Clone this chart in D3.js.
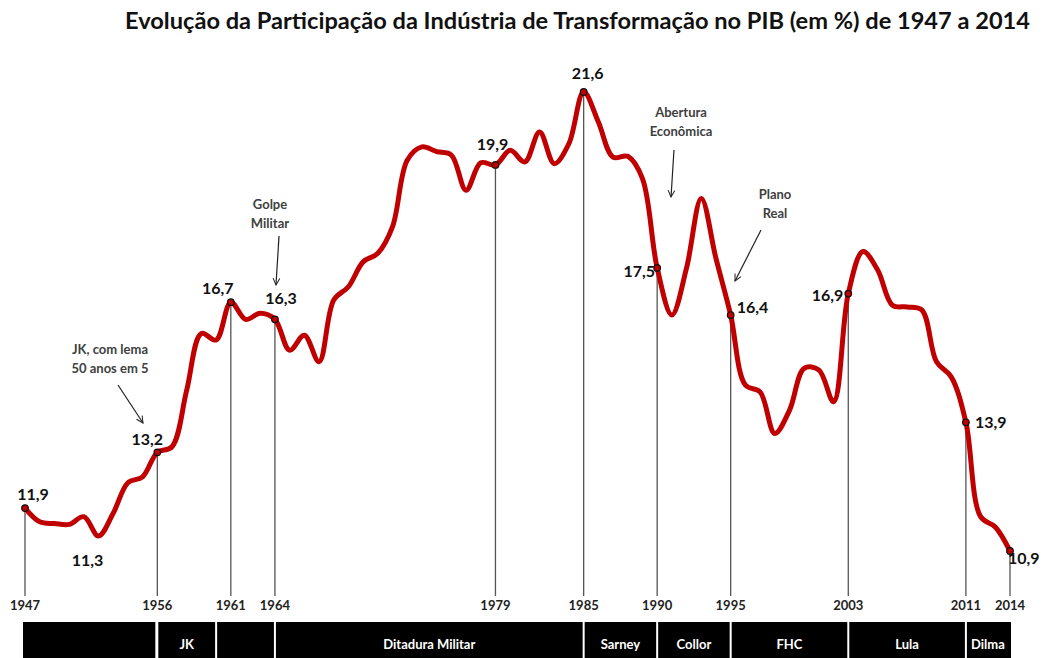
<!DOCTYPE html>
<html>
<head>
<meta charset="utf-8">
<script src="https://cdn.jsdelivr.net/npm/d3@7"></script>
<style>
  body { margin: 0; background: #fff; }
  svg { display: block; font-family: Lato, "Open Sans", sans-serif; }
</style>
</head>
<body>
<div id="chart"></div>
<script>
// anos e participação (%) da indústria de transformação no PIB
var years = d3.range(1947, 2015);
var values = [
  11.9, 11.58, 11.54, 11.52, 11.7, 11.25, 11.78, 12.49, 12.63, 13.2,
  13.33, 14.65, 15.97, 15.82, 16.7, 16.3, 16.44, 16.3, 15.58, 15.93,
  15.31, 16.75, 17.06, 17.64, 17.84, 18.46, 20.01, 20.32, 20.21, 20.13,
  19.31, 19.95, 19.9, 20.24, 19.97, 20.67, 19.93, 20.4, 21.6, 20.9,
  20.08, 20.1, 19.58, 17.5, 16.4, 17.5, 19.12, 17.72, 16.4, 14.77,
  14.61, 13.64, 14.18, 15.16, 15.12, 14.38, 16.9, 17.88, 17.45, 16.63,
  16.59, 16.52, 15.31, 14.96, 13.9, 11.7, 11.46, 10.9
];
// anos destacados com linha vertical
var markedYears = [1947, 1956, 1961, 1964, 1979, 1985, 1990, 1995, 2003, 2011, 2014];
var labelYears = [1947, 1952, 1956, 1961, 1964, 1979, 1985, 1990, 1995, 2003, 2011, 2014];
var labelTexts = ["11,9", "11,3", "13,2", "16,7", "16,3", "19,9", "21,6", "17,5", "16,4", "16,9", "13,9", "10,9"];
// governos
var eraNames = ["", "JK", "", "Ditadura Militar", "Sarney", "Collor", "FHC", "Lula", "Dilma"];
var eraStarts = [1947, 1956, 1960, 1964, 1985, 1990, 1995, 2003, 2011];
var eraEnds = [1956, 1960, 1964, 1985, 1990, 1995, 2003, 2011, 2014];
// anotações
var noteTexts = [["JK, com lema", "50 anos em 5"], ["Golpe", "Militar"], ["Abertura", "Econômica"], ["Plano", "Real"]];

var width = 1044, height = 658;
var svg = d3.select("#chart").append("svg").attr("width", width).attr("height", height);

var x = d3.scaleLinear().domain([1947, 2014]).range([25, 1010]);
var y = d3.scaleLinear().domain([10.9, 21.6]).range([551, 92]);
var valueOf = function(yr){ return values[years.indexOf(yr)]; };

// título
svg.append("text")
  .attr("x", 125).attr("y", 29)
  .attr("textLength", 905).attr("lengthAdjust", "spacingAndGlyphs")
  .style("font-size", "22px").style("font-weight", "bold").attr("fill", "#111")
  .text("Evolução da Participação da Indústria de Transformação no PIB (em %) de 1947 a 2014");

// linhas verticais
svg.selectAll(".vline")
  .data(markedYears)
  .enter().append("line")
  .attr("class", "vline")
  .attr("x1", function(d){ return x(d); }).attr("x2", function(d){ return x(d); })
  .attr("y1", function(d){ return y(valueOf(d)); })
  .attr("y2", 596)
  .attr("stroke", "#555").attr("stroke-width", 1.3);

// rótulos dos anos
svg.selectAll(".yr")
  .data(markedYears)
  .enter().append("text")
  .attr("class", "yr")
  .attr("x", function(d){ return x(d); })
  .attr("y", 610)
  .attr("text-anchor", "middle")
  .style("font-size", "13px").style("font-weight", "bold").attr("fill", "#222")
  .text(function(d){ return d; });

// curva
var line = d3.line()
  .x(function(d, i){ return x(years[i]); })
  .y(function(d){ return y(d); })
  .curve(d3.curveCatmullRom.alpha(0.5));

svg.append("path")
  .datum(values)
  .attr("d", line)
  .attr("fill", "none")
  .attr("stroke", "#c00000")
  .attr("stroke-width", 5)
  .attr("stroke-linejoin", "round");

// pontos
svg.selectAll(".pt")
  .data(markedYears)
  .enter().append("circle")
  .attr("class", "pt")
  .attr("cx", function(d){ return x(d); })
  .attr("cy", function(d){ return y(valueOf(d)); })
  .attr("r", 3.3)
  .attr("fill", "#c00000").attr("stroke", "#111").attr("stroke-width", 1.2);

// rótulos de valores: deslocamento [dx, dy, anchor]
var off = {
  1947: [8, -8, "middle"], 1952: [-11, 30, "middle"], 1956: [-10, -7, "middle"],
  1961: [-13, -8, "middle"], 1964: [6, -15, "middle"], 1979: [-3, -15, "middle"],
  1985: [4, -13, "middle"], 1990: [-2, 9, "end"], 1995: [6, -2, "start"],
  2003: [-5, 7, "end"], 2011: [9, 6, "start"], 2014: [-2, 13, "start"]
};
svg.selectAll(".lbl")
  .data(labelYears)
  .enter().append("text")
  .attr("class", "lbl")
  .attr("x", function(d){ return x(d) + off[d][0]; })
  .attr("y", function(d){ return y(valueOf(d)) + off[d][1]; })
  .attr("text-anchor", function(d){ return off[d][2]; })
  .style("font-size", "16px").style("font-weight", "bold").attr("fill", "#111")
  .text(function(d, i){ return labelTexts[i]; });

// anotações com setas
var defs = svg.append("defs");
defs.append("marker")
  .attr("id", "arr")
  .attr("viewBox", "0 0 10 10")
  .attr("refX", 9).attr("refY", 5)
  .attr("markerWidth", 7).attr("markerHeight", 7)
  .attr("orient", "auto")
  .append("path")
  .attr("d", "M1,1 L9,5 L1,9")
  .attr("fill", "none").attr("stroke", "#222").attr("stroke-width", 1.2);

var notePos = [
  {tx: 110, ty: 354, x1: 118, y1: 385, x2: 143, y2: 423},
  {tx: 270, ty: 209, x1: 279, y1: 236, x2: 276, y2: 285},
  {tx: 681, ty: 117, x1: 674, y1: 150, x2: 671, y2: 197},
  {tx: 775, ty: 199, x1: 761, y1: 230, x2: 735, y2: 281}
];
noteTexts.forEach(function(t, i){
  var p = notePos[i];
  var txt = svg.append("text")
    .attr("x", p.tx).attr("y", p.ty)
    .attr("text-anchor", "middle")
    .style("font-size", "13px").style("font-weight", "bold").attr("fill", "#404040");
  t.forEach(function(s, j){
    txt.append("tspan").attr("x", p.tx).attr("dy", j === 0 ? 0 : 19).text(s);
  });
  svg.append("line")
    .attr("x1", p.x1).attr("y1", p.y1).attr("x2", p.x2).attr("y2", p.y2)
    .attr("stroke", "#222").attr("stroke-width", 1.2)
    .attr("marker-end", "url(#arr)");
});

// barra de governos
var eras = svg.selectAll(".era")
  .data(eraNames)
  .enter().append("g")
  .attr("class", "era");

eras.append("rect")
  .attr("x", function(d, i){ return x(eraStarts[i]) + (i === 0 ? -2 : 1); })
  .attr("y", 622)
  .attr("width", function(d, i){ return x(eraEnds[i]) - x(eraStarts[i]) - (i === 0 ? 0 : 2) + (i === eraNames.length - 1 ? 2 : 0); })
  .attr("height", 40)
  .attr("fill", "#000");

eras.append("text")
  .attr("x", function(d, i){ return (x(eraStarts[i]) + x(eraEnds[i])) / 2; })
  .attr("y", 649)
  .attr("text-anchor", "middle")
  .style("font-size", "13px").style("font-weight", "bold").attr("fill", "#fff")
  .text(function(d){ return d; });
</script>
</body>
</html>
